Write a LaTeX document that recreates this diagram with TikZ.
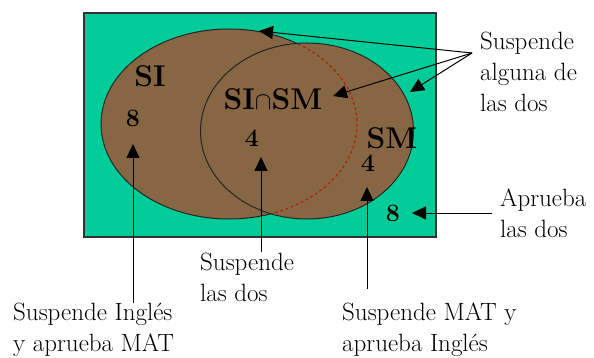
\documentclass[tikz,border=0pt]{standalone}
\usetikzlibrary{arrows.meta}
\definecolor{venngreen}{RGB}{0,204,153}
\definecolor{vennbrown}{RGB}{135,102,68}
\definecolor{vennred}{RGB}{175,25,10}

\begin{document}
\begin{tikzpicture}[
  x=1pt,y=-1pt,
  >={Triangle[length=14pt,width=13pt]},
  note/.style={font=\fontsize{25}{31}\selectfont,align=left,anchor=west,inner sep=0pt},
  setname/.style={font=\fontsize{30}{32}\selectfont\bfseries,inner sep=0pt},
  count/.style={font=\fontsize{25}{27}\selectfont\bfseries,inner sep=0pt},
  pointer/.style={->,line width=1pt},
  rim/.style={line width=1pt,black!85}
]
  \useasboundingbox (0,0) rectangle (594,358);
  \fill[venngreen] (84,13) rectangle (436,237);
  \fill[vennbrown] (229,124) ellipse [x radius=128,y radius=95];
  \fill[vennbrown] (307,131) ellipse [x radius=106.5,y radius=88];
  \begin{scope}
    \clip (307,131) ellipse [x radius=106.5,y radius=88];
    \draw[vennred,line width=1pt,dash pattern=on 3pt off 2.5pt] (229,124) ellipse [x radius=128,y radius=95];
  \end{scope}
  \begin{scope}[even odd rule]
    \clip (0,0) rectangle (594,358) (307,131) ellipse [x radius=106.5,y radius=88];
    \draw[rim] (229,124) ellipse [x radius=128,y radius=95];
  \end{scope}
  \draw[rim] (307,131) ellipse [x radius=106.5,y radius=88];
  \draw[line width=1.5pt,black!80] (84,13) rectangle (436,237);

  \node[setname] (si) at (150,76) {SI};
  \node[setname] (sism) at (273,99) {SI$\cap$SM};
  \node[setname] (sm) at (392,138) {SM};
  \node[count] (onlyI) at (133,118) {8};
  \node[count] (both) at (252,138) {4};
  \node[count] (onlyM) at (368,163) {4};
  \node[count] (none) at (393,213) {8};

  \coordinate (tipI) at (133,144);
  \coordinate (tipB) at (261,157);
  \coordinate (tipM) at (367,187);
  \coordinate (tipN) at (412,213);
  \coordinate (tipTop) at (259,31);
  \coordinate (tipMid) at (333,96);
  \coordinate (tipRight) at (410,92);
  \coordinate (fork) at (472,53);

  \node[note] (failOne) at (480,72) {Suspende\\alguna de\\las dos};
  \node[note] (failBoth) at (200,277) {Suspende\\las dos};
  \node[note] (failI) at (13,330) {Suspende Inglés\\y aprueba MAT};
  \node[note] (failM) at (342,330) {Suspende MAT y\\aprueba Inglés};
  \node[note] (passBoth) at (500,213) {Aprueba\\las dos};

  \draw[pointer] (fork) -- (tipTop);
  \draw[pointer] (fork) -- (tipMid);
  \draw[pointer] (fork) -- (tipRight);
  \draw[pointer] (failI.north -| tipI) -- (tipI);
  \draw[pointer] (failBoth.north -| tipB) -- (tipB);
  \draw[pointer] (failM.north -| tipM) ++(0,-14) -- (tipM);
  \draw[pointer] ([xshift=-8pt]passBoth.west) -- (tipN);
\end{tikzpicture}
\end{document}
